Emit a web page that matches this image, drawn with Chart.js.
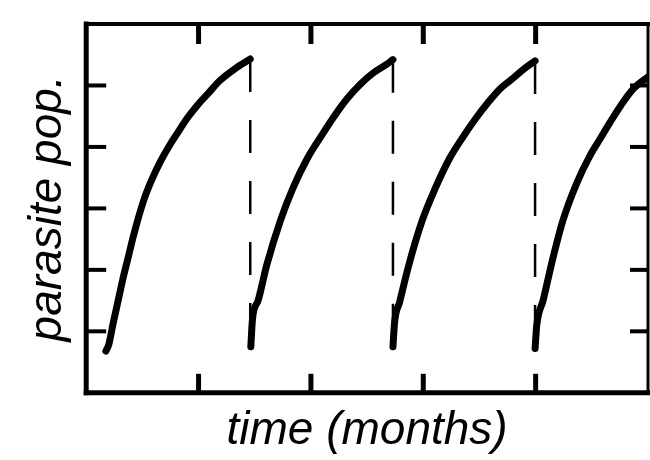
<!DOCTYPE html>
<html>
<head>
<meta charset="utf-8">
<script src="https://cdn.jsdelivr.net/npm/chart.js@4.4.0/dist/chart.umd.min.js"></script>
<style>
  html, body { margin: 0; padding: 0; background: #fff; }
</style>
</head>
<body>
<canvas id="grafico" width="650" height="460"></canvas>
<script>
// ==================== DATOS ====================
// cada ciclo: tiempo (meses) y población de parásitos
const cycle1Time = [1.75, 2.0, 2.4, 2.9, 3.3, 3.8, 4.2, 5.1, 5.8, 6.6, 7.4, 8.1, 9.0, 9.9, 10.9, 11.9, 13.3, 14.6];
const cycle1Pop  = [0.68, 0.78, 1.13, 1.55, 1.88, 2.25, 2.55, 3.12, 3.45, 3.76, 4.02, 4.22, 4.47, 4.68, 4.88, 5.08, 5.28, 5.43];

const cycle2Time = [14.65, 14.8, 15.3, 16.1, 17.3, 18.4, 19.7, 21.0, 22.0, 23.2, 24.4, 25.6, 26.8, 27.3];
const cycle2Pop  = [0.75, 1.20, 1.50, 2.10, 2.81, 3.33, 3.82, 4.20, 4.48, 4.78, 5.02, 5.21, 5.35, 5.42];

const cycle3Time = [27.3, 27.45, 27.9, 28.7, 29.9, 31.0, 32.3, 33.6, 34.7, 35.8, 36.8, 38.0, 38.9, 39.95];
const cycle3Pop  = [0.75, 1.15, 1.48, 2.07, 2.80, 3.30, 3.80, 4.18, 4.47, 4.73, 4.94, 5.12, 5.26, 5.40];

const cycle4Time = [39.95, 40.1, 40.66, 41.55, 42.44, 43.68, 44.84, 45.7, 46.62, 47.6, 48.67, 50.0];
const cycle4Pop  = [0.72, 1.10, 1.50, 2.20, 2.81, 3.42, 3.86, 4.12, 4.40, 4.68, 4.94, 5.14];

// líneas discontinuas (tratamiento)
const dropTime   = [14.6, 27.3, 39.95];
const dropTop    = [5.43, 5.42, 5.40];
const dropBottom = [0.80, 0.80, 0.80];

const xTicks = [10, 20, 30, 40];
const yTicks = [1, 2, 3, 4, 5];

function toPoints(xs, ys) {
    return xs.map((x, i) => ({ x: x, y: ys[i] }));
}

function cicloDataset(xs, ys) {
    return {
        data: toPoints(xs, ys),
        borderColor: "#000",
        borderWidth: 7,
        pointRadius: 0,
        cubicInterpolationMode: "monotone",
        borderCapStyle: "round",
        borderJoinStyle: "round"
    };
}

function caidaDataset(i) {
    return {
        data: [{ x: dropTime[i], y: dropTop[i] }, { x: dropTime[i], y: dropBottom[i] }],
        borderColor: "#000",
        borderWidth: 2.5,
        borderDash: [33, 28],
        pointRadius: 0
    };
}

// marco y ticks hacia dentro
const marcoTicks = {
    id: "marcoTicks",
    afterDatasetsDraw(chart) {
        const { ctx, chartArea: a, scales } = chart;
        const linea = (x1, y1, x2, y2, w) => {
            ctx.lineWidth = w;
            ctx.beginPath();
            ctx.moveTo(x1, y1);
            ctx.lineTo(x2, y2);
            ctx.stroke();
        };
        ctx.save();
        ctx.strokeStyle = "#000";
        ctx.lineCap = "square";
        linea(a.left, a.top, a.left, a.bottom, 5);
        linea(a.left, a.bottom, a.right, a.bottom, 5);
        linea(a.left, a.top, a.right, a.top, 4);
        linea(a.right, a.top, a.right, a.bottom, 3);
        ctx.lineCap = "butt";
        xTicks.forEach(v => {
            const px = scales.x.getPixelForValue(v);
            linea(px, a.top, px, a.top + 20, 5);
            linea(px, a.bottom, px, a.bottom - 19, 5);
        });
        yTicks.forEach(v => {
            const py = scales.y.getPixelForValue(v);
            linea(a.left, py, a.left + 20, py, 4);
            linea(a.right, py, a.right - 18, py, 4);
        });
        ctx.restore();
    }
};

const fuente = { family: "'Liberation Sans', Arial, sans-serif", size: 46, style: "italic" };

new Chart(document.getElementById("grafico"), {
    type: "line",
    data: {
        datasets: [
            cicloDataset(cycle1Time, cycle1Pop),
            cicloDataset(cycle2Time, cycle2Pop),
            cicloDataset(cycle3Time, cycle3Pop),
            cicloDataset(cycle4Time, cycle4Pop),
            caidaDataset(0),
            caidaDataset(1),
            caidaDataset(2)
        ]
    },
    options: {
        responsive: false,
        animation: false,
        layout: { padding: { top: 24, right: 2, left: 14, bottom: 0 } },
        plugins: {
            legend: { display: false },
            tooltip: { enabled: false }
        },
        scales: {
            x: {
                type: "linear",
                min: 0,
                max: 50,
                grid: { display: false },
                border: { display: false },
                ticks: { display: false },
                title: {
                    display: true,
                    text: "time (months)",
                    color: "#000",
                    font: fuente,
                    padding: { top: 3, bottom: 1 }
                }
            },
            y: {
                min: 0,
                max: 6,
                grid: { display: false },
                border: { display: false },
                ticks: { display: false },
                title: {
                    display: true,
                    text: "parasite pop.",
                    color: "#000",
                    font: fuente,
                    padding: { top: 7, bottom: 2 }
                }
            }
        }
    },
    plugins: [marcoTicks]
});
</script>
</body>
</html>
